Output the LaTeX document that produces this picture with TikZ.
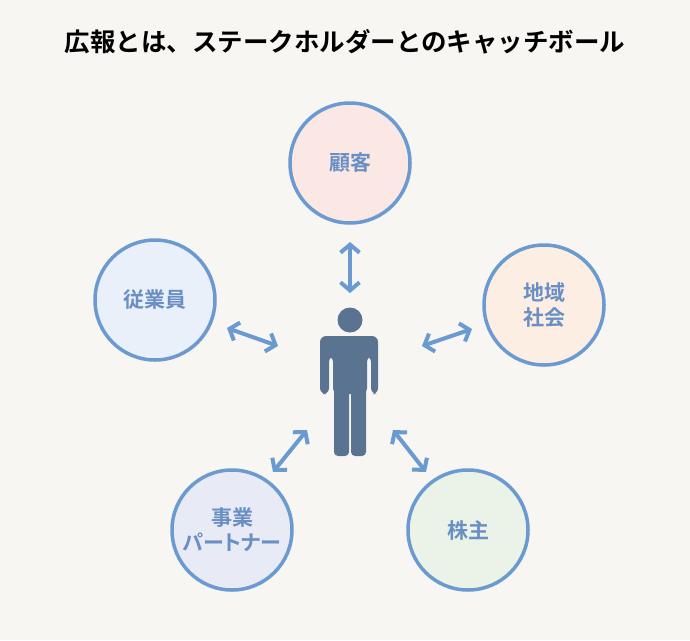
\documentclass[tikz,border=0pt]{standalone}
\usepackage{fontspec}
\setmainfont{Noto Sans CJK JP}[BoldFont={* Bold}]
\newfontfamily\partyfont{Noto Sans CJK JP}[BoldFont={* Bold}, RawFeature=+palt]
\usetikzlibrary{arrows.meta}
\definecolor{bg}{HTML}{F8F6F2}
\definecolor{ring}{HTML}{6A9AD0}
\definecolor{label}{HTML}{6A8FC4}
\definecolor{person}{HTML}{5A7390}
\definecolor{fillcust}{HTML}{FBE8E4}
\definecolor{fillstaff}{HTML}{EAF0FA}
\definecolor{filllocal}{HTML}{FCEEE2}
\definecolor{fillpart}{HTML}{E8EAF6}
\definecolor{fillhold}{HTML}{EBF3E8}
\tikzset{
  party/.style={circle, draw=ring, line width=3.5pt, minimum size=120pt, inner sep=0pt,
    font=\partyfont\bfseries\fontsize{21}{25}\selectfont, text=label, align=center},
  link/.style={draw=ring, line width=4pt, {Straight Barb[length=8pt,width=19pt]}-{Straight Barb[length=8pt,width=19pt]}},
  body/.style={fill=person, draw=none}
}
\begin{document}
\begin{tikzpicture}[x=1pt,y=-1pt]
  \fill[bg] (0,0) rectangle (690,640);
  \useasboundingbox (0,0) rectangle (690,640);
  \node[font=\bfseries\fontsize{25.5}{30}\selectfont] (title) at (345,42) {広報とは、ステークホルダーとのキャッチボール};

  \node[party, fill=fillcust] (customer) at (350,163) {顧客};
  \node[party, fill=fillstaff] (staff) at (155,300) {従業員};
  \node[party, fill=filllocal] (local) at (544,305) {地域\\社会};
  \node[party, fill=fillpart] (partner) at (232,530) {事業\\パートナー};
  \node[party, fill=fillhold] (holder) at (468,530) {株主};

  % person
  \fill[body] (350,320) circle (12.5);
  \fill[body, rounded corners=6pt] (320,394) -- (320,336) -- (378,336) -- (378,394) -- (371,394) -- (371,356) -- (367,356) -- (367,394) -- (333,394) -- (333,356) -- (329,356) -- (329,394) -- cycle;
  \fill[body, rounded corners=4pt] (334,385) rectangle (349,456);
  \fill[body, rounded corners=4pt] (351,385) rectangle (366,456);
  \fill[body] (334,350) rectangle (366,392);

  \coordinate (c1) at (350,242); \coordinate (c2) at (350,293);
  \coordinate (s1) at (227,328); \coordinate (s2) at (278,346);
  \coordinate (l1) at (472,329); \coordinate (l2) at (422,346);
  \coordinate (p1) at (307,430); \coordinate (p2) at (273,472);
  \coordinate (h1) at (393,430); \coordinate (h2) at (426,472);
  \draw[link] (c1) -- (c2);
  \draw[link] (s1) -- (s2);
  \draw[link] (l1) -- (l2);
  \draw[link] (p1) -- (p2);
  \draw[link] (h1) -- (h2);
\end{tikzpicture}
\end{document}
